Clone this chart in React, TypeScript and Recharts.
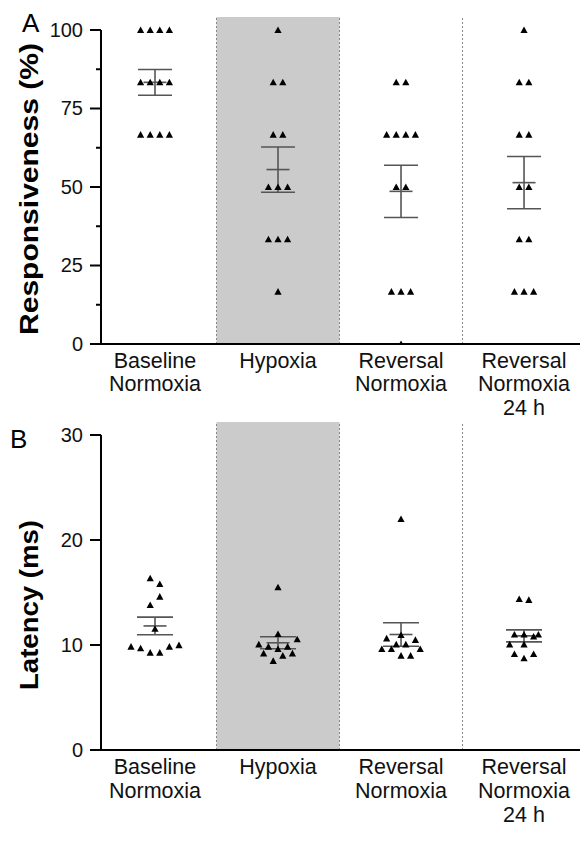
import React from 'react';
import { ScatterChart, Scatter, XAxis, YAxis, ReferenceArea, ReferenceLine, ErrorBar } from 'recharts';

// ---------- data ----------
const categoryLabels: string[][] = [
  ['Baseline', 'Normoxia'],
  ['Hypoxia'],
  ['Reversal', 'Normoxia'],
  ['Reversal', 'Normoxia', '24 h'],
];
const categoryIndex = [0, 1, 2, 3];

// Panel A: responsiveness (%)
const respBaseline = [100, 100, 100, 100, 83.33, 83.33, 83.33, 83.33, 66.67, 66.67, 66.67, 66.67];
const respBaselineJitter = [-3, -1, 1, 3, -3, -1, 1, 3, -3, -1, 1, 3];
const respHypoxia = [100, 83.33, 83.33, 66.67, 66.67, 50, 50, 50, 33.33, 33.33, 33.33, 16.67];
const respHypoxiaJitter = [0, -1, 1, -1, 1, -2, 0, 2, -2, 0, 2, 0];
const respReversal = [83.33, 83.33, 66.67, 66.67, 66.67, 66.67, 50, 50, 16.67, 16.67, 16.67, 0];
const respReversalJitter = [-1, 1, -3, -1, 1, 3, -1, 1, -2, 0, 2, 0];
const respReversal24 = [100, 83.33, 83.33, 66.67, 66.67, 50, 50, 33.33, 33.33, 16.67, 16.67, 16.67];
const respReversal24Jitter = [0, -1, 1, -1, 1, -1, 1, -1, 1, -2, 0, 2];
const respTicks = [0, 12.5, 25, 37.5, 50, 62.5, 75, 87.5, 100];
const respTickLabels = [0, 25, 50, 75, 100];

// Panel B: latency (ms)
const latBaseline = [16.35, 15.8, 14.6, 13.8, 11.55, 9.84, 9.68, 9.27, 9.27, 9.84, 9.98];
const latBaselineJitter = [-1, 1, 1, -1, 0, -5, -3, -1, 1, 3, 5];
const latHypoxia = [15.5, 11.05, 10.54, 10.06, 9.84, 9.62, 9.84, 9.2, 9.2, 8.98, 8.48];
const latHypoxiaJitter = [0, 0, 4, -4, -2, 0, 2, -3, 3, 1, -1];
const latReversal = [22.0, 10.95, 10.63, 10.48, 10.06, 10.06, 9.62, 9.62, 9.62, 8.98, 8.98];
const latReversalJitter = [0, 0, -3, 3, -1, 1, -4, -2, 4, 0, 2];
const latReversal24 = [14.38, 14.29, 11.0, 11.0, 11.0, 10.8, 10.06, 10.06, 9.14, 9.14, 8.73];
const latReversal24Jitter = [-1, 1, -2, 0, 3, 2, -3, 0, -2, 2, 0];
const latTicks = [0, 10, 20, 30];
const latTickLabels = [0, 10, 20, 30];

// ---------- helpers ----------
const FONT = '"Liberation Sans", Arial, Helvetica, sans-serif';
const HALF_SLOT = 0.039; // category units per half marker slot
const X_DOMAIN: [number, number] = [-0.439, 3.455];

const toPoints = (group: number, values: number[], jitter: number[]) =>
  values.map((v, i) => ({ x: group + jitter[i] * HALF_SLOT, y: v }));

const summary = (group: number, values: number[]) => {
  const n = values.length;
  const mean = values.reduce((a, b) => a + b, 0) / n;
  const sd = Math.sqrt(values.reduce((a, b) => a + (b - mean) ** 2, 0) / (n - 1));
  return { x: group, y: mean, err: sd / Math.sqrt(n) };
};

const respGroups = [
  toPoints(0, respBaseline, respBaselineJitter),
  toPoints(1, respHypoxia, respHypoxiaJitter),
  toPoints(2, respReversal, respReversalJitter),
  toPoints(3, respReversal24, respReversal24Jitter),
];
const respSummary = [
  summary(0, respBaseline),
  summary(1, respHypoxia),
  summary(2, respReversal),
  summary(3, respReversal24),
];
const latGroups = [
  toPoints(0, latBaseline, latBaselineJitter),
  toPoints(1, latHypoxia, latHypoxiaJitter),
  toPoints(2, latReversal, latReversalJitter),
  toPoints(3, latReversal24, latReversal24Jitter),
];
const latSummary = [
  summary(0, latBaseline),
  summary(1, latHypoxia),
  summary(2, latReversal),
  summary(3, latReversal24),
];

// ---------- shapes ----------
const Triangle = (props: any) => {
  const { cx, cy } = props;
  if (cx == null || cy == null) return null;
  return <path d={`M${cx - 3.6},${cy + 3} L${cx + 3.6},${cy + 3} L${cx},${cy - 3.6} Z`} fill="#000" />;
};

const MeanLine = (props: any) => {
  const { cx, cy } = props;
  if (cx == null || cy == null) return null;
  return <line x1={cx - 11.5} x2={cx + 11.5} y1={cy} y2={cy} stroke="#555" strokeWidth={1.6} />;
};

const makeYTick = (labelled: number[]) => (props: any) => {
  const { x, y, payload } = props;
  const v = payload.value;
  const major = labelled.includes(v);
  return (
    <g>
      <line x1={x - (major ? 11 : 5)} x2={x} y1={y} y2={y} stroke="#000" strokeWidth={2} />
      {major && (
        <text x={x - 18} y={y} dy={7} textAnchor="end" fontSize={20} fontFamily={FONT} fill="#111">
          {v}
        </text>
      )}
    </g>
  );
};

const makeXTick = (first: number, gap: number) => (props: any) => {
  const { x, y, payload } = props;
  const lines = categoryLabels[payload.value] || [];
  return (
    <text x={x} y={y} textAnchor="middle" fontSize={21.5} fontFamily={FONT} fill="#111">
      {lines.map((l, i) => (
        <tspan key={i} x={x} dy={i === 0 ? first : gap}>
          {l}
        </tspan>
      ))}
    </text>
  );
};

const PanelTitle = (props: any) => {
  const { title, letter, cy, len, lx, ly } = props;
  return (
    <g>
      <text
        x={38}
        y={cy}
        transform={`rotate(-90, 38, ${cy})`}
        textAnchor="middle"
        fontSize={26}
        fontWeight="bold"
        fontFamily={FONT}
        fill="#000"
        textLength={len}
        lengthAdjust="spacingAndGlyphs"
      >
        {title}
      </text>
      <text x={lx} y={ly} fontSize={26} fontFamily={FONT} fill="#000">
        {letter}
      </text>
    </g>
  );
};

interface PanelProps {
  height: number;
  top: number;
  xAxisHeight: number;
  yMax: number;
  yTop: number;
  ticks: number[];
  tickLabels: number[];
  groups: { x: number; y: number }[][];
  sums: { x: number; y: number; err: number }[];
  title: string;
  letter: string;
  titleCy: number;
  titleLen: number;
  letterX: number;
  letterY: number;
  xFirst: number;
  xGap: number;
  capHalf: number;
}

const Panel = (p: PanelProps) => (
  <ScatterChart width={582} height={p.height} margin={{ top: p.top, right: 2, bottom: 0, left: 0 }}>
    <XAxis
      type="number"
      dataKey="x"
      domain={X_DOMAIN}
      ticks={categoryIndex}
      interval={0}
      allowDataOverflow
      tickLine={false}
      tickSize={0}
      tickMargin={0}
      height={p.xAxisHeight}
      axisLine={{ stroke: '#000', strokeWidth: 2 }}
      tick={makeXTick(p.xFirst, p.xGap)}
    />
    <YAxis
      type="number"
      dataKey="y"
      domain={[0, p.yMax]}
      ticks={p.ticks}
      interval={0}
      allowDataOverflow
      width={101}
      axisLine={false}
      tickLine={false}
      tickSize={0}
      tickMargin={0}
      tick={makeYTick(p.tickLabels)}
      label={
        <PanelTitle
          title={p.title}
          letter={p.letter}
          cy={p.titleCy}
          len={p.titleLen}
          lx={p.letterX}
          ly={p.letterY}
        />
      }
    />
    <ReferenceArea x1={0.5} x2={1.5} fill="#cbcbcb" fillOpacity={1} stroke="none" />
    <ReferenceLine x={0.5} stroke="#888" strokeDasharray="2 2" strokeWidth={1} />
    <ReferenceLine x={1.5} stroke="#888" strokeDasharray="2 2" strokeWidth={1} />
    <ReferenceLine x={2.5} stroke="#888" strokeDasharray="2 2" strokeWidth={1} />
    <ReferenceLine
      segment={[
        { x: X_DOMAIN[0], y: 0 },
        { x: X_DOMAIN[0], y: p.yTop },
      ]}
      stroke="#000"
      strokeWidth={2}
    />
    <Scatter data={p.sums} isAnimationActive={false} shape={<MeanLine />}>
      <ErrorBar dataKey="err" direction="y" width={p.capHalf} stroke="#555" strokeWidth={1.6} />
    </Scatter>
    {p.groups.map((g, i) => (
      <Scatter key={i} data={g} isAnimationActive={false} shape={<Triangle />} />
    ))}
  </ScatterChart>
);

export default function App() {
  return (
    <div style={{ position: 'absolute', left: 0, top: 0, width: 582, height: 855, background: '#fff' }}>
      <Panel
        height={420}
        top={17}
        xAxisHeight={76}
        yMax={104.14}
        yTop={100}
        ticks={respTicks}
        tickLabels={respTickLabels}
        groups={respGroups}
        sums={respSummary}
        title="Responsiveness (%)"
        letter="A"
        titleCy={189}
        titleLen={292}
        letterX={22}
        letterY={32}
        xFirst={23.5}
        xGap={23.5}
        capHalf={17}
      />
      <Panel
        height={435}
        top={2}
        xAxisHeight={105}
        yMax={31.24}
        yTop={30}
        ticks={latTicks}
        tickLabels={latTickLabels}
        groups={latGroups}
        sums={latSummary}
        title="Latency (ms)"
        letter="B"
        titleCy={185}
        titleLen={170}
        letterX={10}
        letterY={28}
        xFirst={23.5}
        xGap={24}
        capHalf={18}
      />
    </div>
  );
}
